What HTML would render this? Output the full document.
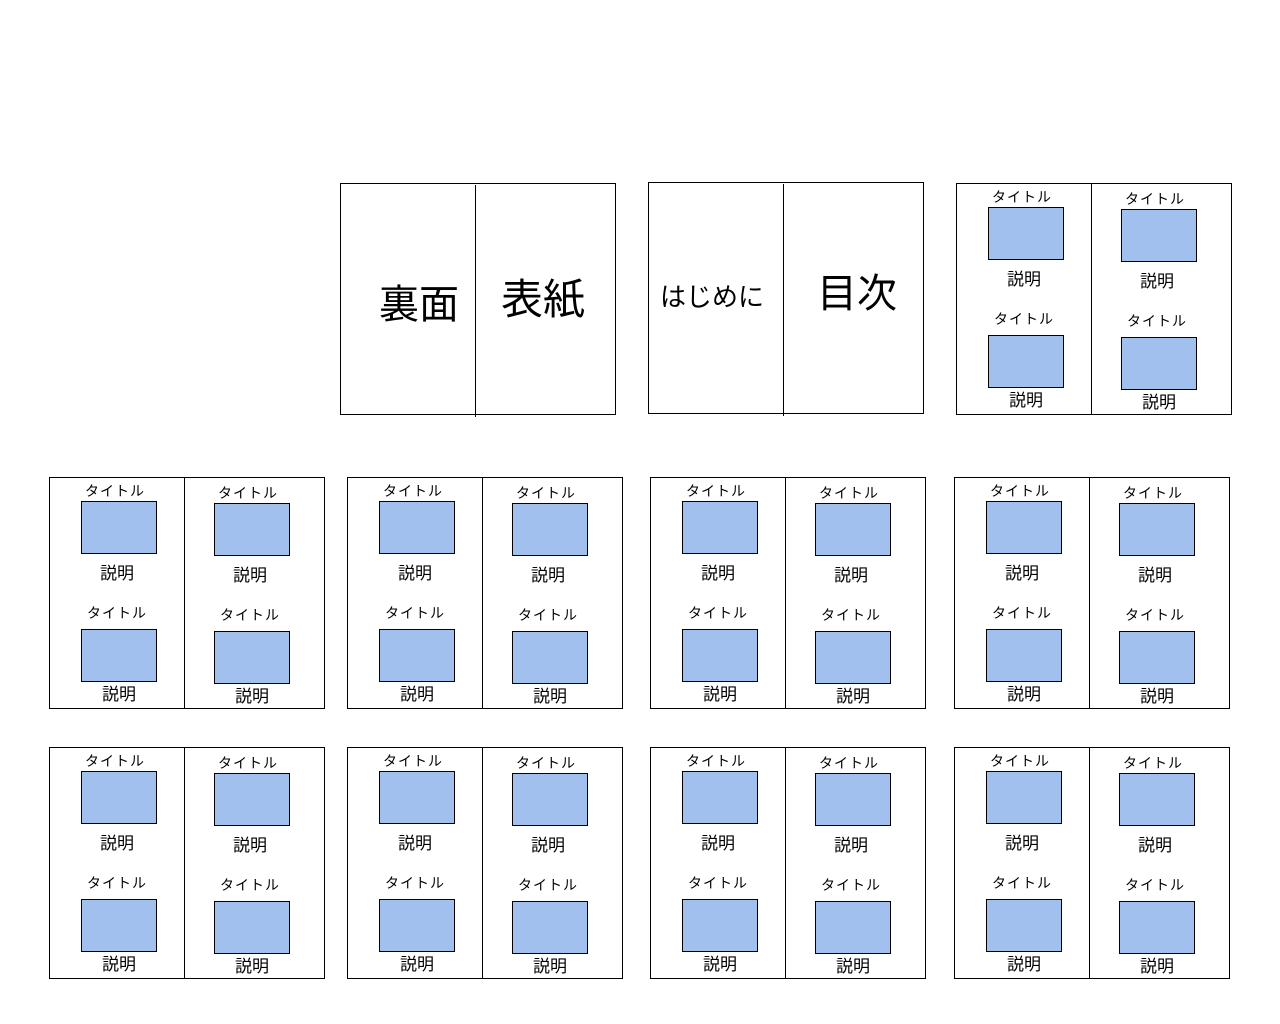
<!DOCTYPE html>
<html><head><meta charset="utf-8"><style>
html,body{margin:0;padding:0;background:#fff;}
svg{display:block;}
text{font-family:"Liberation Sans","Noto Sans CJK JP",sans-serif;fill:#000;}
.t{font-size:14px;text-anchor:middle;letter-spacing:1px;}
.d{font-size:17px;text-anchor:middle;}
.b{fill:#a1c0ee;stroke:#000;stroke-width:1;}
.f{fill:none;stroke:#000;stroke-width:1;}
</style></head><body>
<svg width="1280" height="1024" xmlns="http://www.w3.org/2000/svg">
<rect x="340.5" y="183.5" width="275" height="231" class="f"/>
<line x1="475.5" y1="185" x2="475.5" y2="417" stroke="#000"/>
<text x="419" y="318" style="font-size:40px;text-anchor:middle">裏面</text>
<text x="543" y="314" style="font-size:42px;text-anchor:middle">表紙</text>
<rect x="648.5" y="182.5" width="275" height="231" class="f"/>
<line x1="783.5" y1="184" x2="783.5" y2="416" stroke="#000"/>
<text x="712" y="306" style="font-size:26px;text-anchor:middle">はじめに</text>
<text x="857" y="307" style="font-size:40px;text-anchor:middle">目次</text>

<g transform="translate(956,183)">
<rect x="0.5" y="0.5" width="275" height="231" class="f"/><line x1="135.5" y1="0" x2="135.5" y2="231" stroke="#000"/>
<text x="66" y="19" class="t">タイトル</text><rect x="32.5" y="24.5" width="75" height="52" class="b"/><text x="68" y="102" class="d">説明</text>
<text x="68" y="141" class="t">タイトル</text><rect x="32.5" y="152.5" width="75" height="52" class="b"/><text x="70" y="223" class="d">説明</text>
<text x="199" y="21" class="t">タイトル</text><rect x="165.5" y="26.5" width="75" height="52" class="b"/><text x="201" y="104" class="d">説明</text>
<text x="201" y="143" class="t">タイトル</text><rect x="165.5" y="154.5" width="75" height="52" class="b"/><text x="203" y="225" class="d">説明</text>
</g>

<g transform="translate(49,477)">
<rect x="0.5" y="0.5" width="275" height="231" class="f"/><line x1="135.5" y1="0" x2="135.5" y2="231" stroke="#000"/>
<text x="66" y="19" class="t">タイトル</text><rect x="32.5" y="24.5" width="75" height="52" class="b"/><text x="68" y="102" class="d">説明</text>
<text x="68" y="141" class="t">タイトル</text><rect x="32.5" y="152.5" width="75" height="52" class="b"/><text x="70" y="223" class="d">説明</text>
<text x="199" y="21" class="t">タイトル</text><rect x="165.5" y="26.5" width="75" height="52" class="b"/><text x="201" y="104" class="d">説明</text>
<text x="201" y="143" class="t">タイトル</text><rect x="165.5" y="154.5" width="75" height="52" class="b"/><text x="203" y="225" class="d">説明</text>
</g>
<g transform="translate(347,477)">
<rect x="0.5" y="0.5" width="275" height="231" class="f"/><line x1="135.5" y1="0" x2="135.5" y2="231" stroke="#000"/>
<text x="66" y="19" class="t">タイトル</text><rect x="32.5" y="24.5" width="75" height="52" class="b"/><text x="68" y="102" class="d">説明</text>
<text x="68" y="141" class="t">タイトル</text><rect x="32.5" y="152.5" width="75" height="52" class="b"/><text x="70" y="223" class="d">説明</text>
<text x="199" y="21" class="t">タイトル</text><rect x="165.5" y="26.5" width="75" height="52" class="b"/><text x="201" y="104" class="d">説明</text>
<text x="201" y="143" class="t">タイトル</text><rect x="165.5" y="154.5" width="75" height="52" class="b"/><text x="203" y="225" class="d">説明</text>
</g>
<g transform="translate(650,477)">
<rect x="0.5" y="0.5" width="275" height="231" class="f"/><line x1="135.5" y1="0" x2="135.5" y2="231" stroke="#000"/>
<text x="66" y="19" class="t">タイトル</text><rect x="32.5" y="24.5" width="75" height="52" class="b"/><text x="68" y="102" class="d">説明</text>
<text x="68" y="141" class="t">タイトル</text><rect x="32.5" y="152.5" width="75" height="52" class="b"/><text x="70" y="223" class="d">説明</text>
<text x="199" y="21" class="t">タイトル</text><rect x="165.5" y="26.5" width="75" height="52" class="b"/><text x="201" y="104" class="d">説明</text>
<text x="201" y="143" class="t">タイトル</text><rect x="165.5" y="154.5" width="75" height="52" class="b"/><text x="203" y="225" class="d">説明</text>
</g>
<g transform="translate(954,477)">
<rect x="0.5" y="0.5" width="275" height="231" class="f"/><line x1="135.5" y1="0" x2="135.5" y2="231" stroke="#000"/>
<text x="66" y="19" class="t">タイトル</text><rect x="32.5" y="24.5" width="75" height="52" class="b"/><text x="68" y="102" class="d">説明</text>
<text x="68" y="141" class="t">タイトル</text><rect x="32.5" y="152.5" width="75" height="52" class="b"/><text x="70" y="223" class="d">説明</text>
<text x="199" y="21" class="t">タイトル</text><rect x="165.5" y="26.5" width="75" height="52" class="b"/><text x="201" y="104" class="d">説明</text>
<text x="201" y="143" class="t">タイトル</text><rect x="165.5" y="154.5" width="75" height="52" class="b"/><text x="203" y="225" class="d">説明</text>
</g>

<g transform="translate(49,747)">
<rect x="0.5" y="0.5" width="275" height="231" class="f"/><line x1="135.5" y1="0" x2="135.5" y2="231" stroke="#000"/>
<text x="66" y="19" class="t">タイトル</text><rect x="32.5" y="24.5" width="75" height="52" class="b"/><text x="68" y="102" class="d">説明</text>
<text x="68" y="141" class="t">タイトル</text><rect x="32.5" y="152.5" width="75" height="52" class="b"/><text x="70" y="223" class="d">説明</text>
<text x="199" y="21" class="t">タイトル</text><rect x="165.5" y="26.5" width="75" height="52" class="b"/><text x="201" y="104" class="d">説明</text>
<text x="201" y="143" class="t">タイトル</text><rect x="165.5" y="154.5" width="75" height="52" class="b"/><text x="203" y="225" class="d">説明</text>
</g>
<g transform="translate(347,747)">
<rect x="0.5" y="0.5" width="275" height="231" class="f"/><line x1="135.5" y1="0" x2="135.5" y2="231" stroke="#000"/>
<text x="66" y="19" class="t">タイトル</text><rect x="32.5" y="24.5" width="75" height="52" class="b"/><text x="68" y="102" class="d">説明</text>
<text x="68" y="141" class="t">タイトル</text><rect x="32.5" y="152.5" width="75" height="52" class="b"/><text x="70" y="223" class="d">説明</text>
<text x="199" y="21" class="t">タイトル</text><rect x="165.5" y="26.5" width="75" height="52" class="b"/><text x="201" y="104" class="d">説明</text>
<text x="201" y="143" class="t">タイトル</text><rect x="165.5" y="154.5" width="75" height="52" class="b"/><text x="203" y="225" class="d">説明</text>
</g>
<g transform="translate(650,747)">
<rect x="0.5" y="0.5" width="275" height="231" class="f"/><line x1="135.5" y1="0" x2="135.5" y2="231" stroke="#000"/>
<text x="66" y="19" class="t">タイトル</text><rect x="32.5" y="24.5" width="75" height="52" class="b"/><text x="68" y="102" class="d">説明</text>
<text x="68" y="141" class="t">タイトル</text><rect x="32.5" y="152.5" width="75" height="52" class="b"/><text x="70" y="223" class="d">説明</text>
<text x="199" y="21" class="t">タイトル</text><rect x="165.5" y="26.5" width="75" height="52" class="b"/><text x="201" y="104" class="d">説明</text>
<text x="201" y="143" class="t">タイトル</text><rect x="165.5" y="154.5" width="75" height="52" class="b"/><text x="203" y="225" class="d">説明</text>
</g>
<g transform="translate(954,747)">
<rect x="0.5" y="0.5" width="275" height="231" class="f"/><line x1="135.5" y1="0" x2="135.5" y2="231" stroke="#000"/>
<text x="66" y="19" class="t">タイトル</text><rect x="32.5" y="24.5" width="75" height="52" class="b"/><text x="68" y="102" class="d">説明</text>
<text x="68" y="141" class="t">タイトル</text><rect x="32.5" y="152.5" width="75" height="52" class="b"/><text x="70" y="223" class="d">説明</text>
<text x="199" y="21" class="t">タイトル</text><rect x="165.5" y="26.5" width="75" height="52" class="b"/><text x="201" y="104" class="d">説明</text>
<text x="201" y="143" class="t">タイトル</text><rect x="165.5" y="154.5" width="75" height="52" class="b"/><text x="203" y="225" class="d">説明</text>
</g>
</svg>
</body></html>
